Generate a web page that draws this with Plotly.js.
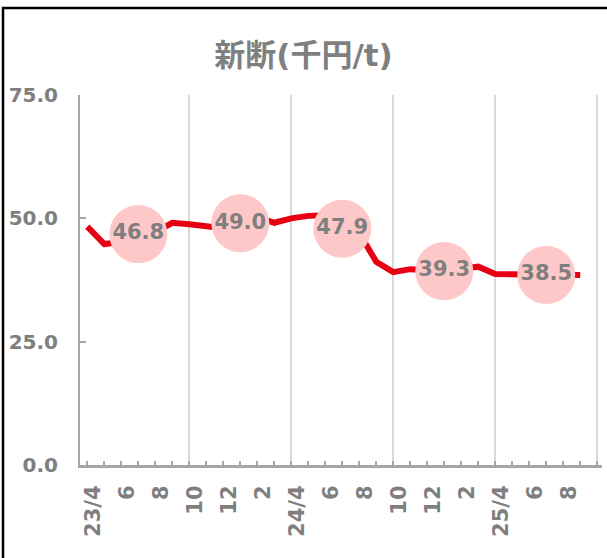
<!DOCTYPE html>
<html>
<head>
<meta charset="utf-8">
<script src="https://cdn.plot.ly/plotly-3.0.1.min.js"></script>
<style>
  html, body { margin: 0; padding: 0; background: #ffffff; }
  #chart { width: 607px; height: 558px; }
</style>
</head>
<body>
<div id="chart"></div>
<script>
// Monthly prices, Apr 2023 .. Sep 2025 (thousand yen / t)
const months = ['2023-04','2023-05','2023-06','2023-07','2023-08','2023-09','2023-10','2023-11','2023-12',
                '2024-01','2024-02','2024-03','2024-04','2024-05','2024-06','2024-07','2024-08','2024-09',
                '2024-10','2024-11','2024-12','2025-01','2025-02','2025-03','2025-04','2025-05','2025-06',
                '2025-07','2025-08','2025-09'];
const prices = [48.3, 44.8, 45.2, 46.8, 47.2, 49.1, 48.8, 48.3, 48.0,
                49.0, 50.3, 49.1, 50.0, 50.5, 50.6, 47.9, 47.0, 41.2,
                39.1, 39.7, 39.6, 39.3, 39.8, 40.2, 38.7, 38.7, 38.6,
                38.5, 38.6, 38.5];
// months that carry a value bubble
const labelledMonths = ['2023-07','2024-01','2024-07','2025-01','2025-07'];
// axis tick labels (every second month)
const tickMonths = ['2023-04','2023-06','2023-08','2023-10','2023-12','2024-02','2024-04','2024-06','2024-08',
                    '2024-10','2024-12','2025-02','2025-04','2025-06','2025-08'];
const tickLabels = ['23/4','6','8','10','12','2','24/4','6','8','10','12','2','25/4','6','8'];
// half-year grid boundaries
const gridMonths = ['2023-10','2024-04','2024-10','2025-04','2025-10'];
const yTicks = [0, 25, 50, 75];
const title = '新断(千円/t)';

// month string -> index from start
function idx(m) {
  const [y, mo] = m.split('-').map(Number);
  const [y0, m0] = months[0].split('-').map(Number);
  return (y - y0) * 12 + (mo - m0);
}
const xs = months.map(idx);
const lx = labelledMonths.map(idx);
const ly = labelledMonths.map(m => prices[months.indexOf(m)]);

const grey = '#7f7f7f';
const axisGrey = '#a6a6a6';
const baseFont = 'DejaVu Sans, Verdana, sans-serif';
const xRange = [-0.43, 30.28];
const labelNudge = 0.35; // rotated labels sit slightly right of their tick

const traces = [
  {
    // carrier for the half-year grid axis (draws nothing)
    type: 'scatter', mode: 'markers', x: [xRange[0]], y: [null],
    xaxis: 'x2', yaxis: 'y', marker: { opacity: 0 },
    hoverinfo: 'skip', showlegend: false
  },
  {
    type: 'scatter', mode: 'lines', x: xs, y: prices,
    line: { color: '#e60012', width: 6, shape: 'linear' },
    hoverinfo: 'skip', showlegend: false
  },
  {
    type: 'scatter', mode: 'markers+text', x: lx, y: ly,
    text: ly.map(v => v.toFixed(1)),
    textposition: 'middle center',
    textfont: { family: baseFont, size: 21, color: grey, weight: 'bold' },
    marker: { size: 58, color: '#ffc8c8', line: { width: 0 } },
    hoverinfo: 'skip', showlegend: false
  }
];

const L = 80, R = 5, T = 95, B = 93;
const W = 607, H = 558;
const pw = W - L - R, ph = H - T - B;
const px2x = p => (p - L) / pw;
const py2y = p => (H - B - p) / ph;

const layout = {
  width: W, height: H,
  margin: { l: L, r: R, t: T, b: B },
  paper_bgcolor: '#ffffff', plot_bgcolor: '#ffffff',
  font: { family: baseFont, color: grey },
  title: {
    text: title,
    font: { family: 'DejaVu Sans, Noto Sans CJK JP, sans-serif', size: 31, color: grey, weight: 'bold' },
    x: 0.5, xanchor: 'center', y: 1 - 55 / H, yanchor: 'middle'
  },
  xaxis: {
    range: xRange,
    tickmode: 'array',
    tickvals: tickMonths.map(m => idx(m) + labelNudge),
    ticktext: tickLabels,
    tickangle: -90,
    tickfont: { family: baseFont, size: 21, color: grey, weight: 'bold' },
    ticks: '',
    minor: { tickmode: 'linear', tick0: 0, dtick: 1, ticks: 'inside', ticklen: 4, tickwidth: 2, tickcolor: axisGrey, showgrid: false },
    ticklabelstandoff: 9,
    showgrid: false, zeroline: false,
    showline: true, linecolor: axisGrey, linewidth: 3,
    fixedrange: true
  },
  xaxis2: {
    overlaying: 'x', side: 'bottom', anchor: 'y',
    range: xRange,
    tickmode: 'array',
    tickvals: gridMonths.map(idx),
    showticklabels: false, ticks: '',
    showgrid: true, gridcolor: '#d9d9d9', gridwidth: 2,
    zeroline: false, showline: false,
    fixedrange: true
  },
  yaxis: {
    range: [0, 75],
    tickmode: 'array', tickvals: yTicks,
    tickformat: '.1f',
    tickfont: { family: baseFont, size: 20, color: grey, weight: 'bold' },
    ticks: 'inside', ticklen: 6, tickwidth: 2, tickcolor: axisGrey,
    ticklabelstandoff: 16,
    showgrid: false, zeroline: false,
    showline: true, linecolor: axisGrey, linewidth: 2,
    fixedrange: true
  },
  shapes: [
    {
      type: 'rect', xref: 'paper', yref: 'paper',
      x0: px2x(3), x1: px2x(640), y0: py2y(600), y1: py2y(8),
      line: { color: '#000000', width: 2.5 }, fillcolor: 'rgba(0,0,0,0)', layer: 'above'
    }
  ],
  showlegend: false
};

Plotly.newPlot('chart', traces, layout, { staticPlot: true, displayModeBar: false });
</script>
</body>
</html>
